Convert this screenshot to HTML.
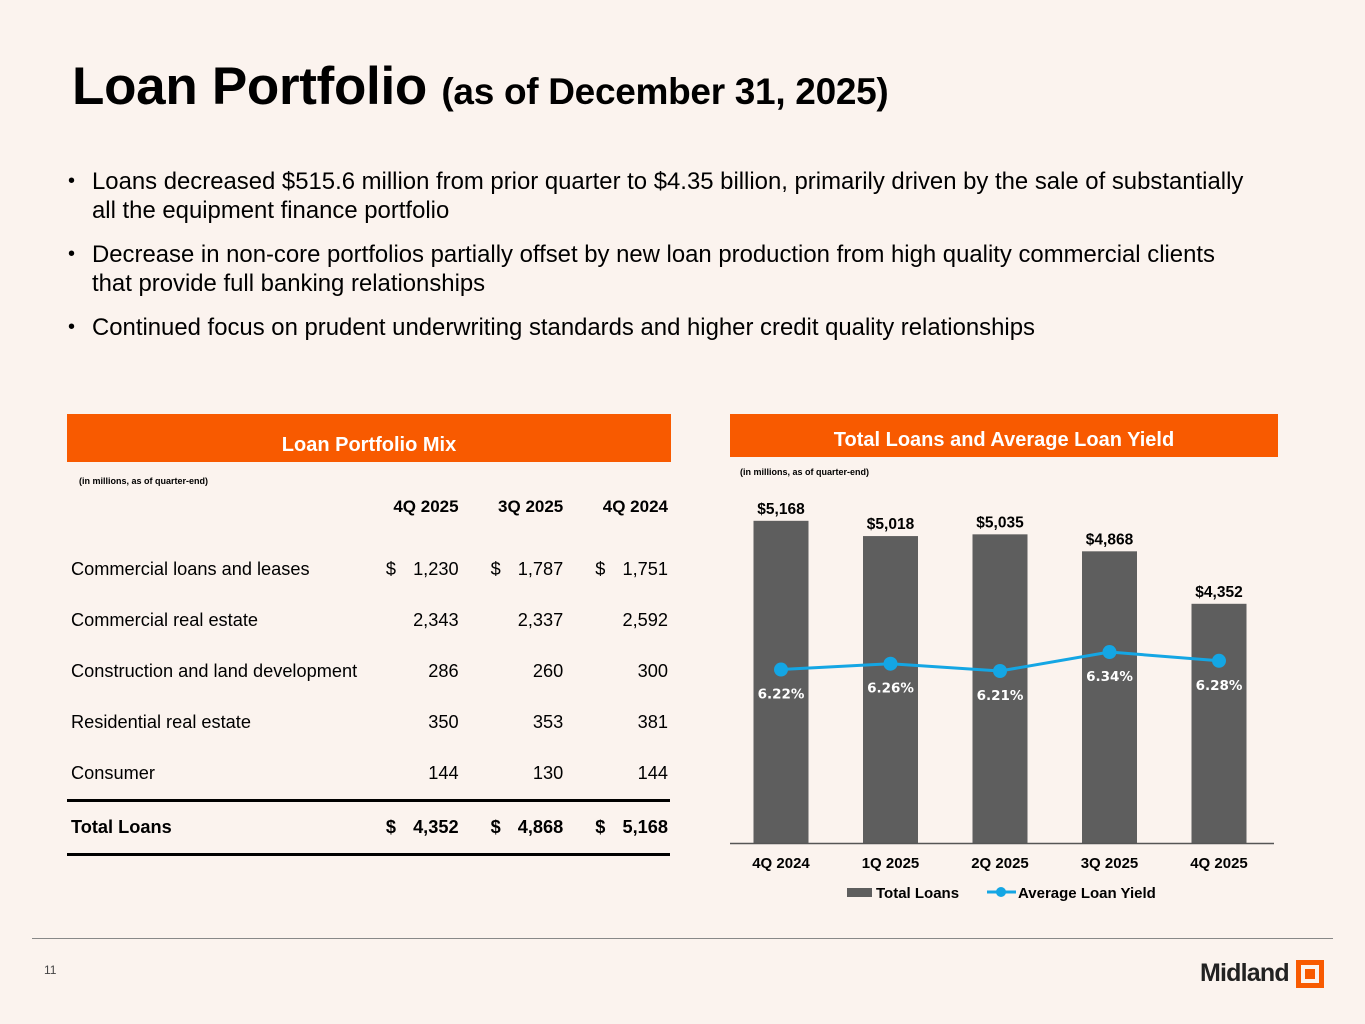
<!DOCTYPE html>
<html><head><meta charset="utf-8"><style>
body{margin:0;width:1365px;height:1024px;background:#fbf3ee;font-family:"Liberation Sans",Arial,sans-serif;position:relative;overflow:hidden;color:#000}
.a{position:absolute}
h1{position:absolute;left:72px;top:56px;margin:0;font-size:53px;font-weight:bold;letter-spacing:-0.3px;white-space:nowrap}
h1 span{font-size:37px}
ul{position:absolute;left:68px;top:167px;margin:0;padding:0;list-style:none;font-size:23.9px;line-height:29px;width:1192px}
ul li{padding-left:24px;margin-bottom:15px;position:relative}
ul li::before{content:"•";position:absolute;left:0;top:0;font-size:20px}
.hdr{position:absolute;background:#f85a00;color:#fff;font-weight:bold;font-size:20px;text-align:center}
.note{font-size:9px;font-weight:bold}
table{position:absolute;left:67px;top:481px;width:603px;border-collapse:collapse;font-size:18.2px}
td{padding:0 2px 0 4px;height:51px;vertical-align:middle}
td.n{text-align:right}
td.d{text-align:left;width:20px}
</style></head><body>
<h1>Loan Portfolio <span>(as of December 31, 2025)</span></h1>
<ul>
<li>Loans decreased $515.6 million from prior quarter to $4.35 billion, primarily driven by the sale of substantially all the equipment finance portfolio</li>
<li>Decrease in non-core portfolios partially offset by new loan production from high quality commercial clients that provide full banking relationships</li>
<li>Continued focus on prudent underwriting standards and higher credit quality relationships</li>
</ul>
<div class="hdr" style="left:67px;top:414px;width:604px;height:48px;line-height:62px">Loan Portfolio Mix</div>
<div class="a note" style="left:79px;top:476px">(in millions, as of quarter-end)</div>
<table>
<tr style="font-weight:bold;font-size:17px"><td style="height:50px"></td><td colspan="2" class="n">4Q 2025</td><td colspan="2" class="n">3Q 2025</td><td colspan="2" class="n">4Q 2024</td></tr>
<tr><td style="height:12px;padding:0" colspan="7"></td></tr>
<tr><td>Commercial loans and leases</td><td class="d" style="padding-left:20px">$</td><td class="n">1,230</td><td class="d" style="padding-left:30px">$</td><td class="n">1,787</td><td class="d" style="padding-left:30px">$</td><td class="n">1,751</td></tr>
<tr><td>Commercial real estate</td><td></td><td class="n">2,343</td><td></td><td class="n">2,337</td><td></td><td class="n">2,592</td></tr>
<tr><td>Construction and land development</td><td></td><td class="n">286</td><td></td><td class="n">260</td><td></td><td class="n">300</td></tr>
<tr><td>Residential real estate</td><td></td><td class="n">350</td><td></td><td class="n">353</td><td></td><td class="n">381</td></tr>
<tr><td style="height:45px">Consumer</td><td></td><td class="n">144</td><td></td><td class="n">130</td><td></td><td class="n">144</td></tr>
<tr style="font-weight:bold;border-top:3px solid #000;border-bottom:3px solid #000"><td style="height:45px">Total Loans</td><td class="d" style="padding-left:20px">$</td><td class="n">4,352</td><td class="d" style="padding-left:30px">$</td><td class="n">4,868</td><td class="d" style="padding-left:30px">$</td><td class="n">5,168</td></tr>
</table>
<div class="hdr" style="left:730px;top:414px;width:548px;height:43px;line-height:53px">Total Loans and Average Loan Yield</div>
<div class="a note" style="left:740px;top:467px">(in millions, as of quarter-end)</div>
<svg class="a" style="left:0;top:0" width="1365" height="1024" id="ch"></svg>
<div class="a" style="left:32px;top:938px;width:1301px;height:1px;background:#888"></div>
<div class="a" style="left:44px;top:963px;font-size:12px;color:#444">11</div>
<div class="a" style="left:1200px;top:959px;font-size:25px;font-weight:bold;letter-spacing:-0.8px;color:#222">Midland</div>
<div class="a" style="left:1296px;top:960px;width:18px;height:18px;border:5px solid #f85a00;"><div style="margin:4px;width:10px;height:10px;background:#f85a00"></div></div>
<script>
const categories=["4Q 2024","1Q 2025","2Q 2025","3Q 2025","4Q 2025"];
const loans=[5168,5018,5035,4868,4352];
const yields=[6.22,6.26,6.21,6.34,6.28];
const loanLabels=["$5,168","$5,018","$5,035","$4,868","$4,352"];
const NS="http://www.w3.org/2000/svg",svg=document.getElementById('ch');
const xC=i=>781+i*109.5, yB=v=>843-(v-2000)*0.1017, yL=v=>671-(v-6.21)*146;
function mk(t,a,txt){const e=document.createElementNS(NS,t);for(const k in a)e.setAttribute(k,a[k]);if(txt!=null)e.textContent=txt;svg.appendChild(e);return e;}
loans.forEach((v,i)=>{
 const r=mk('rect',{x:xC(i)-27.5,y:yB(v),width:55,height:843-yB(v),fill:'#5e5e5e'});
 
 
 const t=mk('text',{x:xC(i),y:yB(v)-7,'text-anchor':'middle','font-size':15.5,'font-weight':'bold','font-family':'Liberation Sans'},loanLabels[i]);
 
 
 const c=mk('text',{x:xC(i),y:868,'text-anchor':'middle','font-size':15,'font-weight':'bold','font-family':'Liberation Sans'},categories[i]);
 
 
});
const ax=mk('line',{x1:730,x2:1274,y1:843.5,y2:843.5,stroke:'#555','stroke-width':1.5});


const ln=mk('polyline',{points:yields.map((v,i)=>xC(i)+','+yL(v)).join(' '),fill:'none',stroke:'#14a6e4','stroke-width':3});


yields.forEach((v,i)=>{
 const p=mk('circle',{cx:xC(i),cy:yL(v),r:7,fill:'#14a6e4'});
 
 
 const t=mk('text',{x:xC(i),y:yL(v)+29,'text-anchor':'middle','font-size':13.5,'font-weight':'bold',fill:'#fff','font-family':'DejaVu Sans'},v.toFixed(2)+'%');
 
 
});
const l1=mk('rect',{x:847,y:888,width:25,height:9,fill:'#5e5e5e'});


mk('text',{x:876,y:898,'font-size':15,'font-weight':'bold','font-family':'Liberation Sans'},'Total Loans');
const l2=mk('line',{x1:987,x2:1016,y1:892,y2:892,stroke:'#14a6e4','stroke-width':3});


mk('circle',{cx:1001,cy:892,r:5,fill:'#14a6e4'});
mk('text',{x:1018,y:898,'font-size':15,'font-weight':'bold','font-family':'Liberation Sans'},'Average Loan Yield');
</script>
</body></html>
